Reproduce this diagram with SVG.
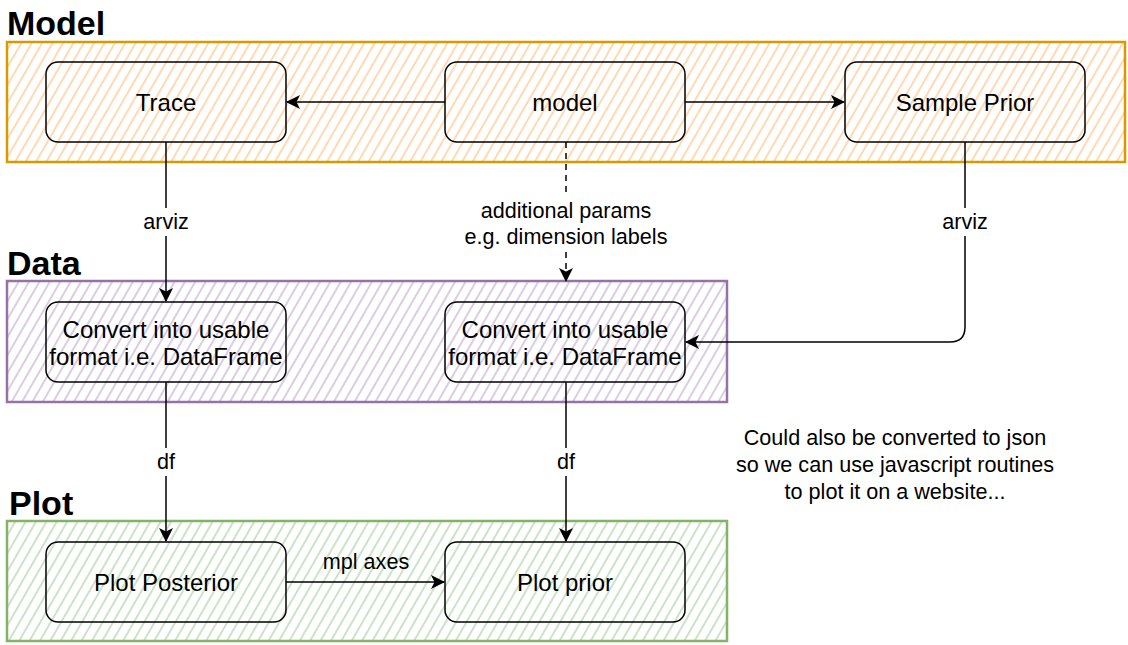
<svg xmlns="http://www.w3.org/2000/svg" width="1128" height="645" viewBox="0 0 1128 645">
<defs>
<pattern id="hO" width="9" height="9" patternUnits="userSpaceOnUse" patternTransform="rotate(30)"><line x1="4" y1="0" x2="4" y2="9" stroke="#ffc890" stroke-width="1.6" stroke-opacity="0.85"/></pattern>
<pattern id="hP" width="9" height="9" patternUnits="userSpaceOnUse" patternTransform="rotate(30)"><line x1="4" y1="0" x2="4" y2="9" stroke="#d3bfdd" stroke-width="1.6"/></pattern>
<pattern id="hG" width="9" height="9" patternUnits="userSpaceOnUse" patternTransform="rotate(30)"><line x1="4" y1="0" x2="4" y2="9" stroke="#bfdcba" stroke-width="1.6"/></pattern>
<marker id="arr" viewBox="0 0 14 14" refX="13" refY="7" markerWidth="14" markerHeight="14" markerUnits="userSpaceOnUse" orient="auto"><path d="M0,0 L14,7 L0,14 L3.5,7 Z" fill="#000"/></marker>
</defs>
<style>
.title{font-family:"Liberation Sans",Arial,sans-serif;font-weight:bold;font-size:34px;fill:#000}
.node rect{fill:none;stroke:#000;stroke-width:1.5}
.lbl{font-family:"Liberation Sans",Arial,sans-serif;font-size:24px;fill:#000;text-anchor:middle}
.elbl{font-family:"Liberation Sans",Arial,sans-serif;font-size:21.6px;fill:#000;text-anchor:middle}
.edge{fill:none;stroke:#000;stroke-width:1.5}
</style>
<rect width="1128" height="645" fill="#fff"/>
<g id="container-model">
<rect x="7" y="42" width="1118" height="120" fill="url(#hO)" stroke="#d79b00" stroke-width="2.5"/>
<text class="title" x="7" y="35">Model</text>
</g>
<g id="container-data">
<rect x="7" y="281" width="720" height="121" fill="url(#hP)" stroke="#9673a6" stroke-width="2.5"/>
<text class="title" x="7" y="275">Data</text>
</g>
<g id="container-plot">
<rect x="7" y="521" width="720" height="120" fill="url(#hG)" stroke="#82b366" stroke-width="2.5"/>
<text class="title" x="9" y="515">Plot</text>
</g>
<g id="trace" class="node"><rect x="46" y="62" width="240" height="80" rx="12"/><text class="lbl" x="166" y="111">Trace</text></g>
<g id="model" class="node"><rect x="445" y="62" width="240" height="80" rx="12"/><text class="lbl" x="565" y="111">model</text></g>
<g id="sample-prior" class="node"><rect x="845" y="62" width="240" height="80" rx="12"/><text class="lbl" x="965" y="111">Sample Prior</text></g>
<g id="convert1" class="node"><rect x="46" y="302" width="240" height="80" rx="12"/><text class="lbl" x="166" y="338">Convert into usable</text><text class="lbl" x="166" y="365">format i.e. DataFrame</text></g>
<g id="convert2" class="node"><rect x="445" y="302" width="240" height="80" rx="12"/><text class="lbl" x="565" y="338">Convert into usable</text><text class="lbl" x="565" y="365">format i.e. DataFrame</text></g>
<g id="plot-posterior" class="node"><rect x="46" y="542" width="240" height="80" rx="12"/><text class="lbl" x="166" y="591">Plot Posterior</text></g>
<g id="plot-prior" class="node"><rect x="445" y="542" width="240" height="80" rx="12"/><text class="lbl" x="565" y="591">Plot prior</text></g>
<g id="connectors">
<path class="edge" d="M445,102 H287" marker-end="url(#arr)"/>
<path class="edge" d="M685,102 H844" marker-end="url(#arr)"/>
<path class="edge" d="M166,142 V301" marker-end="url(#arr)"/>
<path class="edge" d="M566,142 V281" stroke-dasharray="6,5" marker-end="url(#arr)"/>
<path class="edge" d="M965,142 V327 Q965,342 950,342 H686" marker-end="url(#arr)"/>
<path class="edge" d="M166,382 V541" marker-end="url(#arr)"/>
<path class="edge" d="M566,382 V541" marker-end="url(#arr)"/>
<path class="edge" d="M286,582 H444" marker-end="url(#arr)"/>
<rect x="134" y="208" width="64" height="28" fill="#fff"/>
<text class="elbl" x="166" y="229">arviz</text>
<rect x="933" y="208" width="64" height="28" fill="#fff"/>
<text class="elbl" x="965" y="229">arviz</text>
<rect x="474" y="196" width="184" height="56" fill="#fff"/>
<text class="elbl" x="566" y="218">additional params</text>
<text class="elbl" x="566" y="244">e.g. dimension labels</text>
<rect x="150" y="448" width="32" height="28" fill="#fff"/>
<text class="elbl" x="166" y="469">df</text>
<rect x="550" y="448" width="32" height="28" fill="#fff"/>
<text class="elbl" x="566" y="469">df</text>
<text class="elbl" x="366" y="569">mpl axes</text>
</g>
<g id="note">
<text class="elbl" x="895" y="445">Could also be converted to json</text>
<text class="elbl" x="895" y="472">so we can use javascript routines</text>
<text class="elbl" x="895" y="499">to plot it on a website...</text>
</g>
</svg>
